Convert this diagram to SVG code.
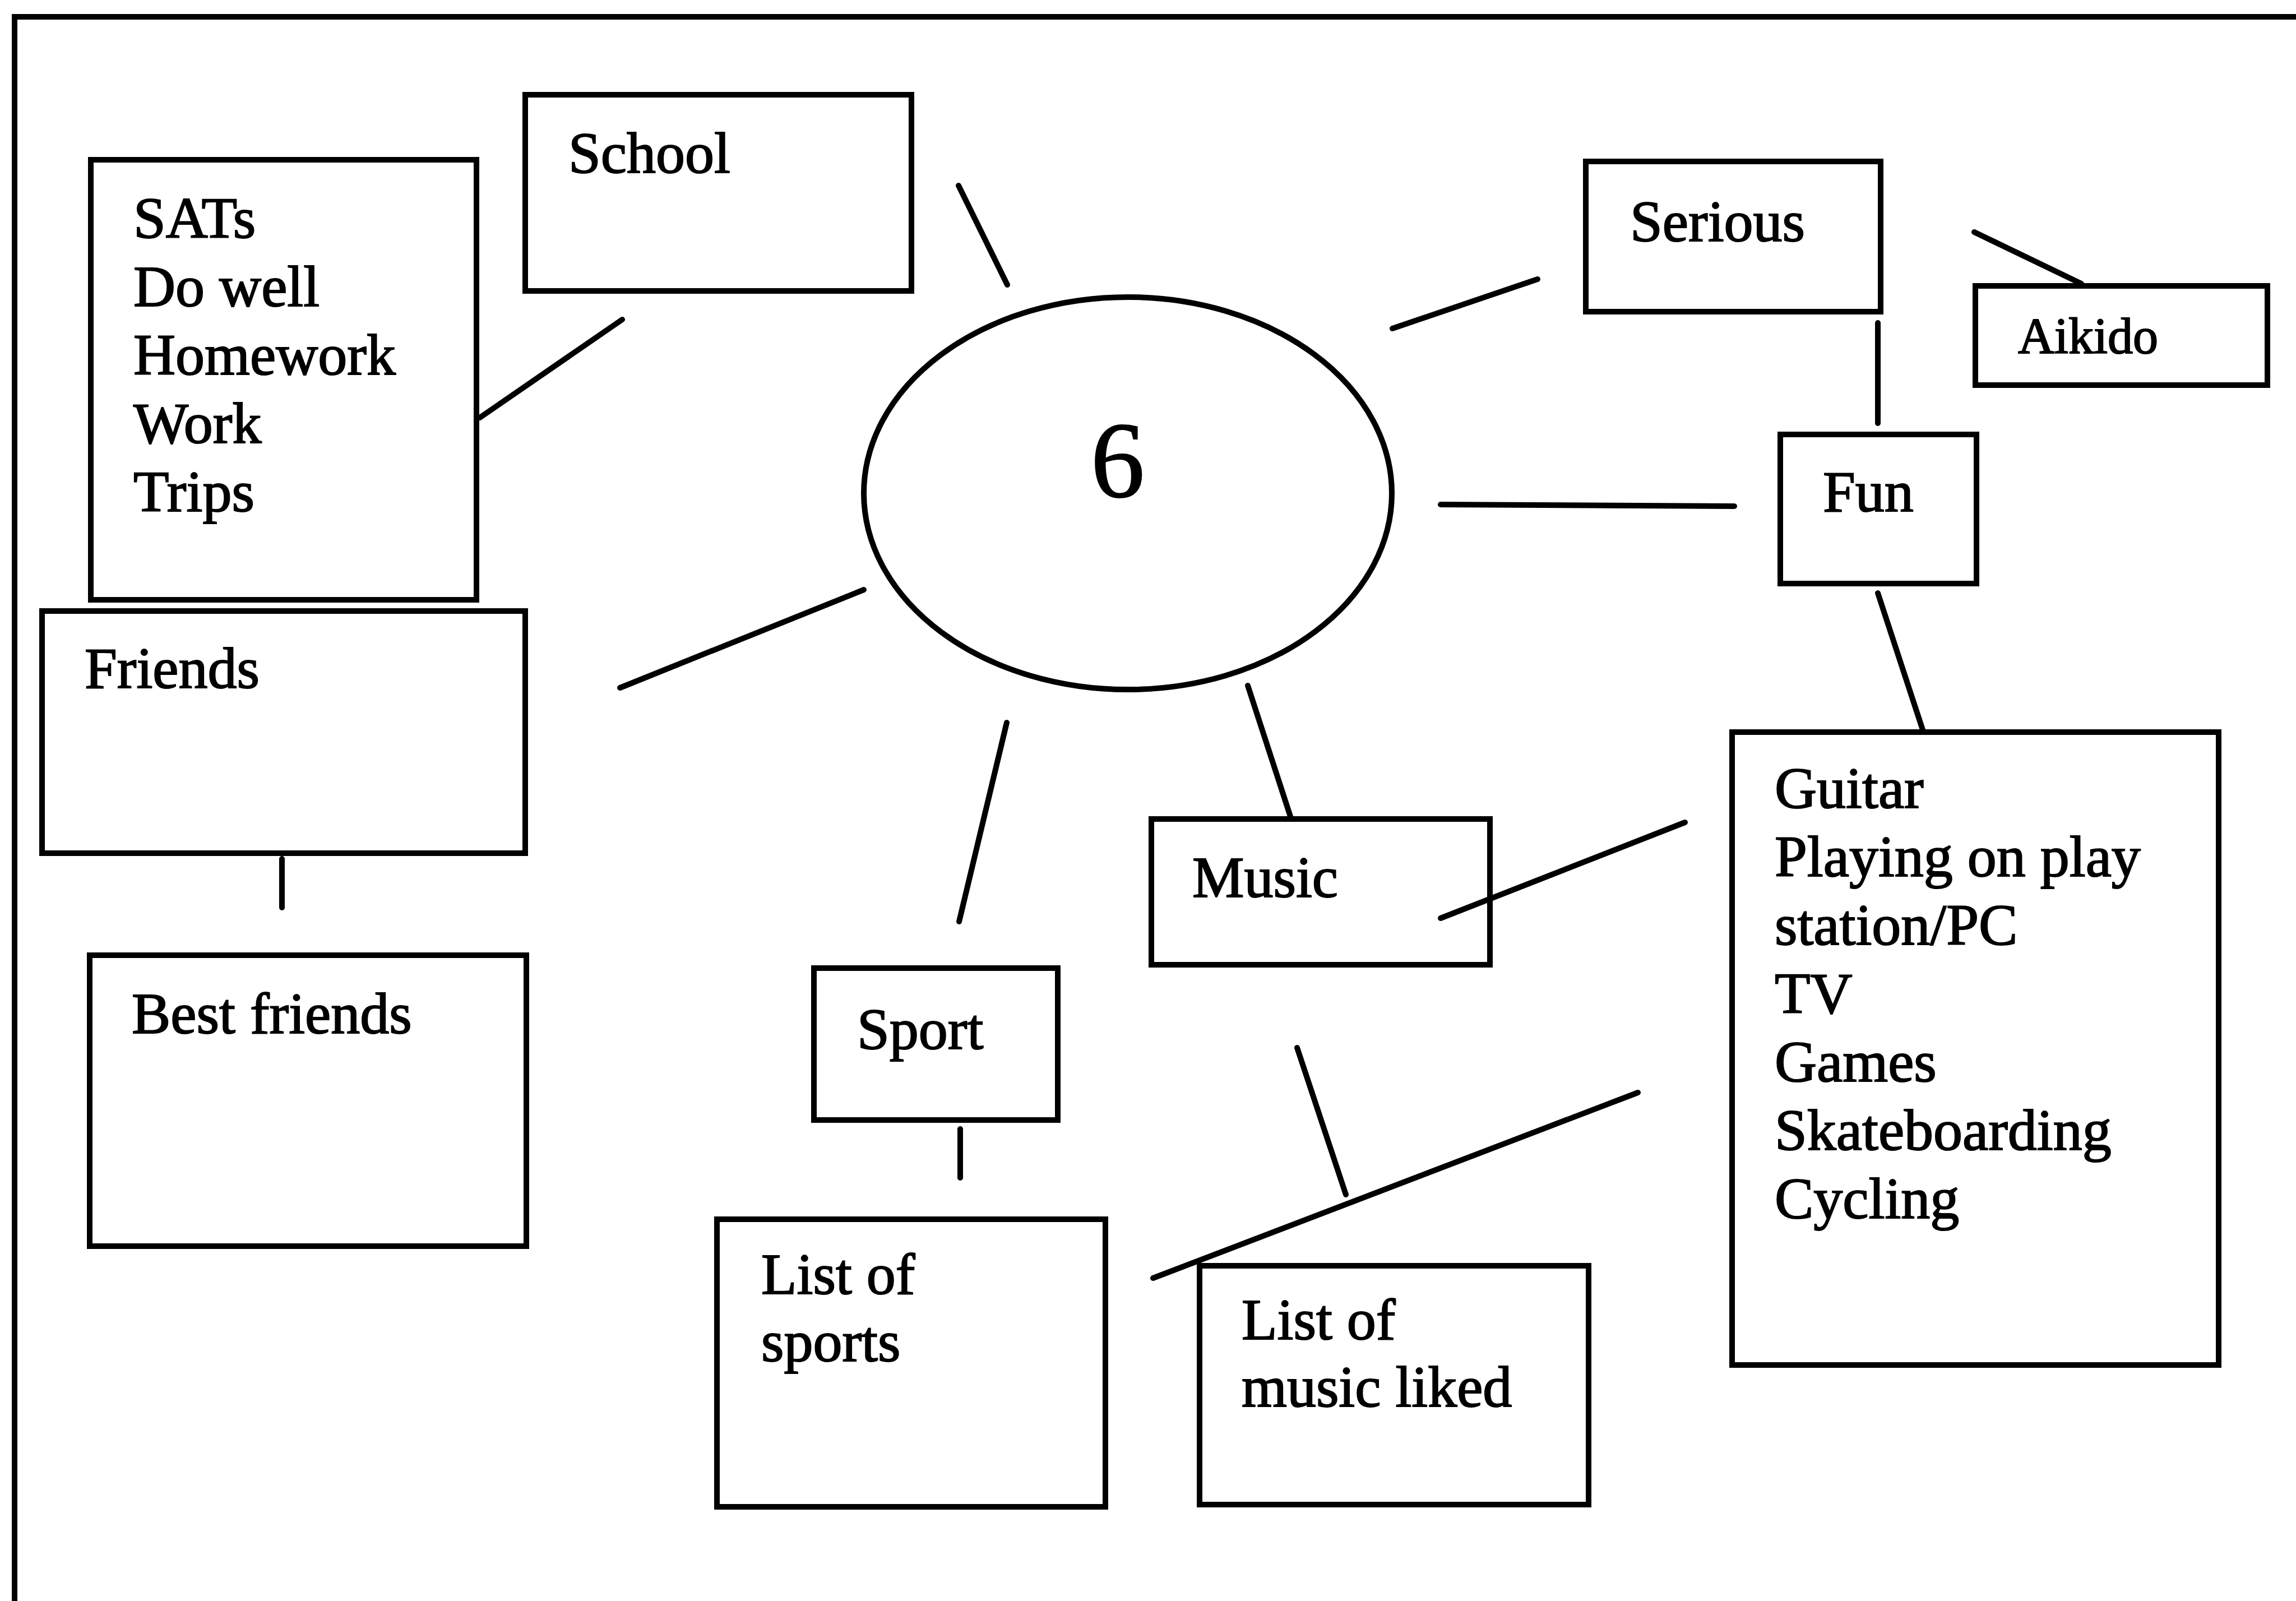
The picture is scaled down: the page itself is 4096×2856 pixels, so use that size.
<svg xmlns="http://www.w3.org/2000/svg" width="4096" height="2856" viewBox="0 0 4096 2856">
<style>
.box{fill:#fff;stroke:#000;stroke-width:10}
.ln{stroke:#000;stroke-width:10;stroke-linecap:round;fill:none}
text{font-family:"Liberation Serif","Times New Roman",serif;font-size:104px;fill:#000;stroke:#000;stroke-width:2}
text.big{font-size:192px}
text.small{font-size:90px}
</style>
<rect width="4096" height="2856" fill="#fff"/>
<path class="ln" d="M26 2870 V30 H4110" stroke-linecap="butt"/>
<g id="connectors">
<line class="ln" x1="1710" y1="331" x2="1797" y2="508"/>
<line class="ln" x1="1110" y1="570" x2="856" y2="745"/>
<line class="ln" x1="2484" y1="586" x2="2743" y2="498"/>
<line class="ln" x1="3522" y1="414" x2="3713" y2="506"/>
<line class="ln" x1="3350" y1="576" x2="3350" y2="755"/>
<line class="ln" x1="2570" y1="900" x2="3094" y2="903"/>
<line class="ln" x1="3350" y1="1058" x2="3434" y2="1314"/>
<line class="ln" x1="1541" y1="1052" x2="1106" y2="1227"/>
<line class="ln" x1="503" y1="1532" x2="503" y2="1619"/>
<line class="ln" x1="1796" y1="1289" x2="1711" y2="1644"/>
<line class="ln" x1="2226" y1="1223" x2="2311" y2="1484"/>
<line class="ln" x1="1713" y1="2014" x2="1713" y2="2101"/>
<line class="ln" x1="2314" y1="1869" x2="2401" y2="2131"/>
</g>
<g id="node-center">
<ellipse class="box" cx="2012" cy="880" rx="471" ry="350"/>
<text class="big" x="1994" y="886" text-anchor="middle">6</text>
</g>
<g id="node-school">
<rect class="box" x="937" y="169" width="689" height="350"/>
<text x="1014" y="308">School</text>
</g>
<g id="node-sats">
<rect class="box" x="162" y="285" width="688" height="785"/>
<text x="238" y="424">SATs</text>
<text x="238" y="546">Do well</text>
<text x="238" y="668">Homework</text>
<text x="238" y="790">Work</text>
<text x="238" y="912">Trips</text>
</g>
<g id="node-serious">
<rect class="box" x="2829" y="288" width="526" height="268"/>
<text x="2908" y="430">Serious</text>
</g>
<g id="node-aikido">
<rect class="box" x="3524" y="510" width="521" height="177"/>
<text class="small" x="3600" y="630">Aikido</text>
</g>
<g id="node-fun">
<rect class="box" x="3176" y="775" width="350" height="266"/>
<text x="3252" y="912">Fun</text>
</g>
<g id="node-friends">
<rect class="box" x="75" y="1090" width="862" height="432"/>
<text x="151" y="1227">Friends</text>
</g>
<g id="node-bestfriends">
<rect class="box" x="160" y="1704" width="779" height="519"/>
<text x="235" y="1843">Best friends</text>
</g>
<g id="node-music">
<rect class="box" x="2054" y="1461" width="604" height="260"/>
<text x="2127" y="1600">Music</text>
</g>
<g id="node-sport">
<rect class="box" x="1452" y="1727" width="435" height="271"/>
<text x="1529" y="1871">Sport</text>
</g>
<g id="node-listsports">
<rect class="box" x="1279" y="2175" width="693" height="513"/>
<text x="1358" y="2308">List of</text>
<text x="1358" y="2428">sports</text>
</g>
<g id="node-listmusic">
<rect class="box" x="2140" y="2258" width="694" height="426"/>
<text x="2215" y="2389">List of</text>
<text x="2215" y="2509">music liked</text>
</g>
<g id="node-fun-list">
<rect class="box" x="3090" y="1306" width="868" height="1129"/>
<text x="3166" y="1441">Guitar</text>
<text x="3166" y="1563">Playing on play</text>
<text x="3166" y="1685">station/PC</text>
<text x="3166" y="1807">TV</text>
<text x="3166" y="1929">Games</text>
<text x="3166" y="2051">Skateboarding</text>
<text x="3166" y="2173">Cycling</text>
</g>
<g id="connectors-over">
<line class="ln" x1="3006" y1="1467" x2="2570" y2="1638"/>
<line class="ln" x1="2922" y1="1949" x2="2057" y2="2280"/>
</g>
</svg>
